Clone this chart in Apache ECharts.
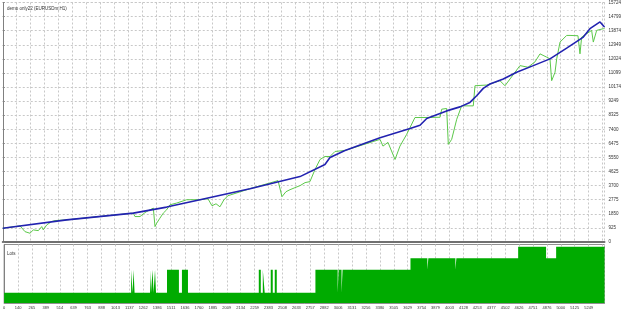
<!DOCTYPE html>
<html><head><meta charset="utf-8">
<script src="https://cdn.jsdelivr.net/npm/echarts@6/dist/echarts.min.js"></script>
<style>html,body{margin:0;padding:0;background:#fff}#c{width:625px;height:311px}</style>
</head><body><div id="c"></div>
<script>
const titleText = 'demo only22 (EURUSDm,H1)';
const lotsTitle = 'Lots';
const xTickLabels = ['0','140','265','389','514','639','763','888','1013','1137','1262','1386','1511','1636','1760','1885','2009','2134','2259','2383','2508','2633','2757','2882','3006','3131','3256','3380','3505','3629','3754','3879','4003','4128','4253','4377','4502','4626','4751','4876','5000','5125','5249'];
const yTickLabels = ['0','925','1850','2775','3700','4625','5550','6475','7400','8325','9249','10174','11099','12024','12949','13874','14799','15724'];
const tradeStep = 124.6;
const tradeMax = 5375;
const yMax = 15724;

const balanceTrades = [0,571,1166,1464,1762,2208,2655,2878,2923,3057,3370,3638,3727,3787,3965,4084,4173,4233,4292,4352,4471,4590,4739,4888,5037,5186,5245,5335,5375];
const balanceValues = [905,1453,1896,2292,2775,3501,4294,5087,5549,6011,6850,7445,7663,8105,8608,8872,9163,9599,10087,10371,10702,11144,11580,12023,12730,13456,14005,14447,14117];

const equityTrades = [0,154,199,243,273,318,348,362,393,437,467,571,869,1166,1181,1226,1255,1286,1345,1360,1375,1404,1434,1464,1494,1554,1643,1762,1833,1869,1905,1940,1976,2012,2208,2459,2494,2530,2566,2610,2655,2700,2744,2789,2834,2878,2923,2968,3057,3370,3396,3441,3504,3548,3608,3682,3754,3906,3921,3965,3980,4010,4055,4099,4203,4218,4323,4352,4441,4486,4531,4620,4692,4754,4799,4859,4888,4903,4933,4948,4978,5037,5067,5138,5156,5171,5216,5260,5275,5305,5364,5375];
const equityValues = [905,1057,680,575,793,746,1011,793,1123,1341,1407,1453,1678,1896,1671,1671,1850,2002,2226,1011,1235,1566,1896,2114,2444,2557,2775,2775,2841,2378,2510,2312,2775,3039,3501,4030,2973,3303,3435,3567,3699,3898,3964,4756,5417,5615,5615,5945,6011,6738,6296,6540,5417,6296,7068,8172,8172,8191,8720,8766,6408,6738,8059,8938,8938,10259,10305,10371,10590,10259,10702,11580,11474,11825,12353,12135,12023,10590,11144,12023,13126,13562,13562,13542,12353,13456,13674,13892,13126,13892,14005,14005];

const lotTrades = [0,1137,1150,1159,1168,1306,1315,1329,1338,1351,1360,1458,1565,1592,1646,2280,2298,2316,2333,2387,2405,2423,2441,2787,2986,2995,3021,3030,3638,3789,3798,4040,4049,4602,4852,4942,5375];
const lotValues = [0.1,0.3,0.1,0.3,0.1,0.3,0.1,0.3,0.1,0.3,0.1,0.3,0.1,0.3,0.1,0.3,0.1,0.3,0.1,0.3,0.1,0.3,0.1,0.3,0.1,0.3,0.1,0.3,0.4,0.3,0.4,0.3,0.4,0.5,0.4,0.5,0.5];

const FONT = 'Liberation Sans';
const gridLine = {show:true, lineStyle:{color:'#c8c8c8', type:[2,2], width:1}};
const chart = echarts.init(document.getElementById('c'), null, {renderer:'canvas'});
chart.setOption({
  backgroundColor:'#fff',
  animation:false,
  title:[
    {text:titleText, left:2, top:1, textStyle:{fontFamily:FONT, fontSize:4.5, fontWeight:'normal', color:'#333'}},
    {text:lotsTitle, left:2, top:246, textStyle:{fontFamily:FONT, fontSize:4.5, fontWeight:'normal', color:'#333'}}
  ],
  grid:[
    {left:2.75, right:20.5, top:2, height:240, show:false},
    {left:2.75, right:20.5, top:244.5, height:58.5, show:true, borderColor:'#909090', borderWidth:1, backgroundColor:'transparent'}
  ],
  xAxis:[
    {type:'value', gridIndex:0, min:0, max:tradeMax, interval:tradeStep,
     axisLine:{show:true, onZero:false, lineStyle:{color:'#707070', width:2}}, axisTick:{show:false}, axisLabel:{show:false}, splitLine:gridLine},
    {type:'value', gridIndex:1, min:0, max:tradeMax, interval:tradeStep,
     axisLine:{show:true, onZero:false, lineStyle:{color:'#909090'}}, axisTick:{show:false},
     axisLabel:{show:true, fontFamily:FONT, fontSize:4, color:'#333', margin:3, showMaxLabel:false,
       formatter:(v)=>{const i=Math.round(v/tradeStep); return xTickLabels[i]!==undefined && Math.abs(v-i*tradeStep)<1 ? xTickLabels[i] : '';}},
     splitLine:gridLine}
  ],
  yAxis:[
    {type:'value', gridIndex:0, position:'right', min:0, max:yMax, interval:yMax/17,
     axisLine:{show:true, lineStyle:{color:'#808080'}}, axisTick:{show:true, length:2, lineStyle:{color:'#808080'}},
     axisLabel:{show:true, fontFamily:FONT, fontSize:4.5, color:'#333', margin:4,
       formatter:(v)=>yTickLabels[Math.round(v/(yMax/17))]||''},
     splitLine:gridLine},
    {type:'value', gridIndex:1, position:'right', min:0.01, max:0.52,
     axisLine:{show:true, lineStyle:{color:'#808080'}}, axisTick:{show:false}, axisLabel:{show:false}, splitLine:{show:false}}
  ],
  series:[
    {type:'line', xAxisIndex:0, yAxisIndex:0, symbol:'none', data:equityTrades.map((t,i)=>[t,equityValues[i]]),
     lineStyle:{color:'#5cc84a', width:1}, z:2},
    {type:'line', xAxisIndex:0, yAxisIndex:0, symbol:'none', data:balanceTrades.map((t,i)=>[t,balanceValues[i]]),
     lineStyle:{color:'#2222b0', width:1.6}, z:3},
    {type:'line', xAxisIndex:1, yAxisIndex:1, symbol:'none', step:'end', data:lotTrades.map((t,i)=>[t,lotValues[i]]),
     lineStyle:{color:'#00ab00', width:0}, areaStyle:{color:'#00ab00', opacity:1}, z:2}
  ]
});
</script></body></html>
